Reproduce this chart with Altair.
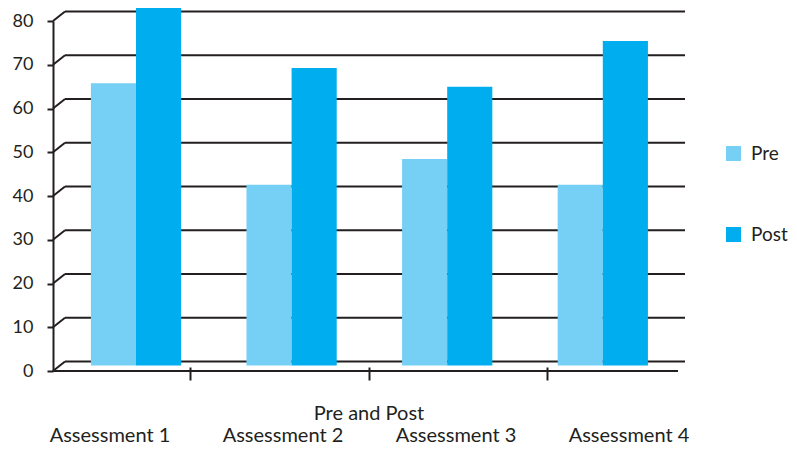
import altair as alt
import pandas as pd

# ---- data ----
assessments = ["Assessment 1", "Assessment 2", "Assessment 3", "Assessment 4"]
series = ["Pre", "Post"]
pre_values = [64.5, 41.3, 47.2, 41.3]
post_values = [88.0, 68.0, 63.7, 74.2]
y_ticks = [0, 10, 20, 30, 40, 50, 60, 70, 80]
x_tick_values = [1, 2, 3]          # separators between the assessment groups
x_title = "Pre and Post"

pre_color = "#76d0f5"
post_color = "#00adee"
ink = "#231f20"
font = "Lato"

rows = []
for a, pv, qv in zip(assessments, pre_values, post_values):
    rows.append({"assessment": a, "series": "Pre", "value": pv})
    rows.append({"assessment": a, "series": "Post", "value": qv})
bars_df = pd.DataFrame(rows)
grid_df = pd.DataFrame({"v": y_ticks})
labels_df = pd.DataFrame({"assessment": assessments})
xticks_df = pd.DataFrame({"t": x_tick_values})

W, H = 632, 350
DEPTH_X, DEPTH_Y = 12, -9.5

yscale = alt.Scale(domain=[0, 80], nice=False, zero=True)
yaxis = alt.Axis(values=y_ticks, grid=False, title=None, domainColor=ink, domainWidth=2,
                 tickColor=ink, tickWidth=2, tickSize=6, labelFont=font, labelFontSize=18,
                 labelColor=ink, labelPadding=14)

# back-wall gridlines
grid = alt.Chart(grid_df).mark_rule(color=ink, strokeWidth=2, yOffset=DEPTH_Y).encode(
    x=alt.value(DEPTH_X), x2=alt.value(W),
    y=alt.Y("v:Q", scale=yscale, axis=yaxis),
)

# diagonal connectors from front axis to back wall
diag = alt.Chart(grid_df).mark_rule(color=ink, strokeWidth=2, y2Offset=DEPTH_Y).encode(
    x=alt.value(0), x2=alt.value(DEPTH_X),
    y=alt.Y("v:Q", scale=yscale, axis=yaxis), y2="v:Q",
)

# front floor line
floor = alt.Chart(grid_df).transform_filter("datum.v == 0").mark_rule(color=ink, strokeWidth=2).encode(
    x=alt.value(0), x2=alt.value(625),
    y=alt.Y("v:Q", scale=yscale, axis=yaxis),
)

bars = alt.Chart(bars_df).mark_bar(yOffset=-5.5, y2Offset=-5.5).encode(
    x=alt.X("assessment:N", sort=assessments,
            scale=alt.Scale(domain=assessments, range=[5.2, 627.6], paddingInner=0.42, paddingOuter=0.21),
            axis=None),
    xOffset=alt.XOffset("series:N", sort=series,
                        scale=alt.Scale(domain=series, paddingInner=0, paddingOuter=0)),
    y=alt.Y("value:Q", scale=yscale, axis=yaxis),
    color=alt.Color("series:N", sort=series,
                    scale=alt.Scale(domain=series, range=[pre_color, post_color]),
                    legend=alt.Legend(title=None, orient="none", legendX=671, legendY=123,
                                      direction="vertical", symbolType="square", symbolSize=225,
                                      symbolStrokeWidth=0, labelFont=font, labelFontSize=19,
                                      labelColor=ink, labelOffset=8, rowPadding=61, padding=0)),
)

# category separator ticks + axis title
xticks = alt.Chart(xticks_df).mark_point(opacity=0).encode(
    x=alt.X("t:Q", scale=alt.Scale(domain=[0, 4], range=[-41.5, 672.5], nice=False, zero=False),
            axis=alt.Axis(orient="bottom", values=x_tick_values, labels=False, domain=False,
                          ticks=True, tickSize=13, tickWidth=2, tickColor=ink, offset=-4,
                          grid=False, title=x_title, titleFont=font, titleFontSize=20,
                          titleFontWeight="normal", titleColor=ink, titlePadding=22)),
    y=alt.value(0),
)

# category labels
labels = alt.Chart(labels_df).mark_text(font=font, fontSize=20, color=ink, baseline="alphabetic").encode(
    x=alt.X("assessment:N", sort=assessments,
            scale=alt.Scale(domain=assessments, range=[23.5 - 53, 715.5 - 53], paddingInner=0, paddingOuter=0),
            axis=None),
    y=alt.value(421),
    text="assessment:N",
)

chart = alt.layer(grid, diag, floor, bars, xticks, labels).resolve_scale(
    x="independent"
).resolve_axis(x="independent").properties(
    width=W, height=H,
    autosize=alt.AutoSizeParams(type="none"),
    padding={"left": 45, "top": 13, "right": 104, "bottom": 74},
    background="white",
).configure_view(stroke=None)

chart.save("out.html", embed_options={"renderer": "svg", "actions": False})
